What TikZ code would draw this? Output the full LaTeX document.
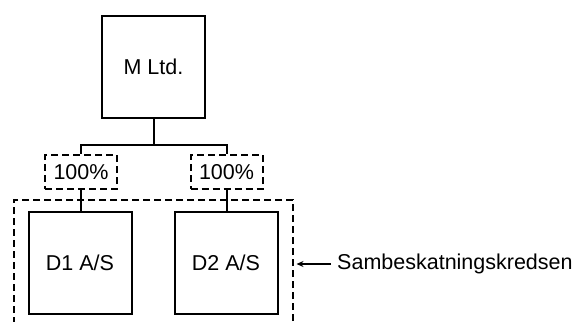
\documentclass[tikz,border=0pt]{standalone}
\usepackage{fontspec}
\setmainfont{Liberation Sans}
\usetikzlibrary{arrows.meta}
\begin{document}
\begin{tikzpicture}[x=1pt,y=-1pt,
  txt/.style={font=\fontsize{21.5}{24}\selectfont},
  solidbox/.style={draw,line width=2pt,minimum width=103pt,minimum height=102pt,inner sep=0pt,txt},
  pctbox/.style={draw,line width=2pt,dash pattern=on 7pt off 4pt,minimum width=72pt,minimum height=34pt,inner sep=0pt,txt},
  link/.style={line width=2pt},
  ]
\useasboundingbox (0,0) rectangle (572,321);
\clip (0,0) rectangle (572,321);
\node[solidbox] (m) at (153.5,67) {M Ltd.};
\node[pctbox] (p1) at (81,172) {100\%};
\node[pctbox] (p2) at (226.5,172) {100\%};
\node[solidbox] (d1) at (80,262.5) {D1 A/S};
\node[solidbox] (d2) at (226,262.5) {D2 A/S};
\node[draw,line width=2pt,dash pattern=on 7pt off 4pt,minimum width=279pt,minimum height=128pt,inner sep=0pt] (grp) at (153.5,264) {};
\coordinate (bar) at (153.5,145);
\draw[link] (m.south) -- (bar);
\draw[link] (bar) -| (p1.north);
\draw[link] (bar) -| (p2.north);
\draw[link] (p1.south) -- (p1.south |- d1.north);
\draw[link] (p2.south) -- (p2.south |- d2.north);
\node[anchor=west,inner sep=0pt,txt] (lbl) at (337,264) {Sambeskatningskredsen};
\draw[line width=1.4pt,-{Stealth[length=7pt,width=6pt]}] ([xshift=-6pt]lbl.west) -- ([xshift=2.5pt]grp.east);
\end{tikzpicture}
\end{document}
